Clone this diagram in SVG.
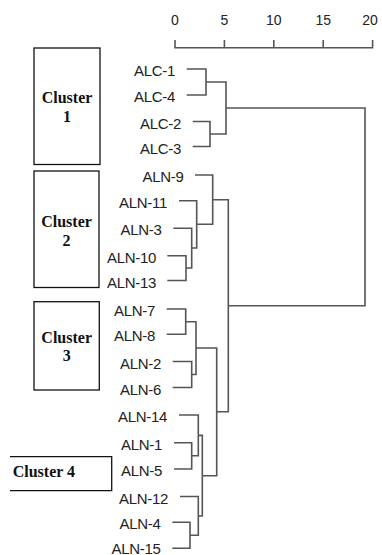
<svg xmlns="http://www.w3.org/2000/svg" width="382" height="555" viewBox="0 0 382 555">
<style>
.lbl{font-family:"Liberation Sans",Arial,sans-serif;font-size:15px;fill:#222;text-anchor:end;letter-spacing:-0.3px}
.ax{font-family:"Liberation Sans",Arial,sans-serif;font-size:14px;fill:#222;text-anchor:middle}
.cl{font-family:"Liberation Serif","Times New Roman",serif;font-size:16px;font-weight:bold;fill:#111;text-anchor:middle}
.box{fill:none;stroke:#111;stroke-width:1.3}
.tree{fill:none;stroke:#555;stroke-width:1.6}
</style>
<rect width="382" height="555" fill="#fff"/>
<g id="axis">
<path class="tree" d="M175,40V47.7H372.6V40M224.4,40V47.7M273.8,40V47.7M323.2,40V47.7"/>
<text class="ax" x="175" y="25">0</text>
<text class="ax" x="224.4" y="25">5</text>
<text class="ax" x="273.8" y="25">10</text>
<text class="ax" x="323.2" y="25">15</text>
<text class="ax" x="370" y="25">20</text>
</g>
<g id="cluster1"><rect class="box" x="34" y="48" width="66" height="116.5"/><text class="cl" x="67" y="103">Cluster</text><text class="cl" x="67" y="122">1</text></g>
<g id="cluster2"><rect class="box" x="34" y="171" width="65" height="116.5"/><text class="cl" x="66.5" y="227">Cluster</text><text class="cl" x="66.5" y="246">2</text></g>
<g id="cluster3"><rect class="box" x="34" y="301.7" width="65.3" height="88.3"/><text class="cl" x="66.7" y="342.7">Cluster</text><text class="cl" x="66.7" y="361">3</text></g>
<g id="cluster4"><path class="box" d="M10,456.7H111.7V490.7H10"/><text class="cl" x="12.7" y="477" style="text-anchor:start">Cluster 4</text></g>
<g id="labels">
<text class="lbl" x="175" y="76">ALC-1</text>
<text class="lbl" x="175" y="102">ALC-4</text>
<text class="lbl" x="181" y="128.5">ALC-2</text>
<text class="lbl" x="181" y="153.5">ALC-3</text>
<text class="lbl" x="183.5" y="182">ALN-9</text>
<text class="lbl" x="167" y="207.7">ALN-11</text>
<text class="lbl" x="161.5" y="235.3">ALN-3</text>
<text class="lbl" x="156" y="262.7">ALN-10</text>
<text class="lbl" x="156" y="287.5">ALN-13</text>
<text class="lbl" x="155" y="316">ALN-7</text>
<text class="lbl" x="155" y="341.3">ALN-8</text>
<text class="lbl" x="161" y="368.5">ALN-2</text>
<text class="lbl" x="161" y="394.5">ALN-6</text>
<text class="lbl" x="167" y="422">ALN-14</text>
<text class="lbl" x="162" y="449.7">ALN-1</text>
<text class="lbl" x="162" y="476">ALN-5</text>
<text class="lbl" x="168" y="503.5">ALN-12</text>
<text class="lbl" x="160.5" y="529.3">ALN-4</text>
<text class="lbl" x="160.5" y="553.5">ALN-15</text>
</g>
<g id="connectors" class="tree">
<path d="M186.7,69H206V95H186.7"/>
<path d="M192.7,121.5H210V146.5H192.7"/>
<path d="M206,82H226V134H210"/>
<path d="M167.3,255.7H186V280.5H167.3"/>
<path d="M173.3,228.3H191.7V268H186"/>
<path d="M179,200.7H196.7V248H191.7"/>
<path d="M195,175H212.7V224.3H196.7"/>
<path d="M166.7,309H185.7V334.3H166.7"/>
<path d="M172.7,361.5H191.7V387.5H172.7"/>
<path d="M185.7,321.7H196V374.5H191.7"/>
<path d="M174,442.7H191.7V469H174"/>
<path d="M179,415H198.3V455.8H191.7"/>
<path d="M172.3,522.3H190V548.3H172.3"/>
<path d="M180,496.5H198.3V535.3H190"/>
<path d="M198.3,435.4H202.3V516H198.3"/>
<path d="M196,348H216.7V475.7H202.3"/>
<path d="M212.7,199.7H228.3V411.8H216.7"/>
<path d="M226,108H365V305.8H228.3"/>
</g>
</svg>
